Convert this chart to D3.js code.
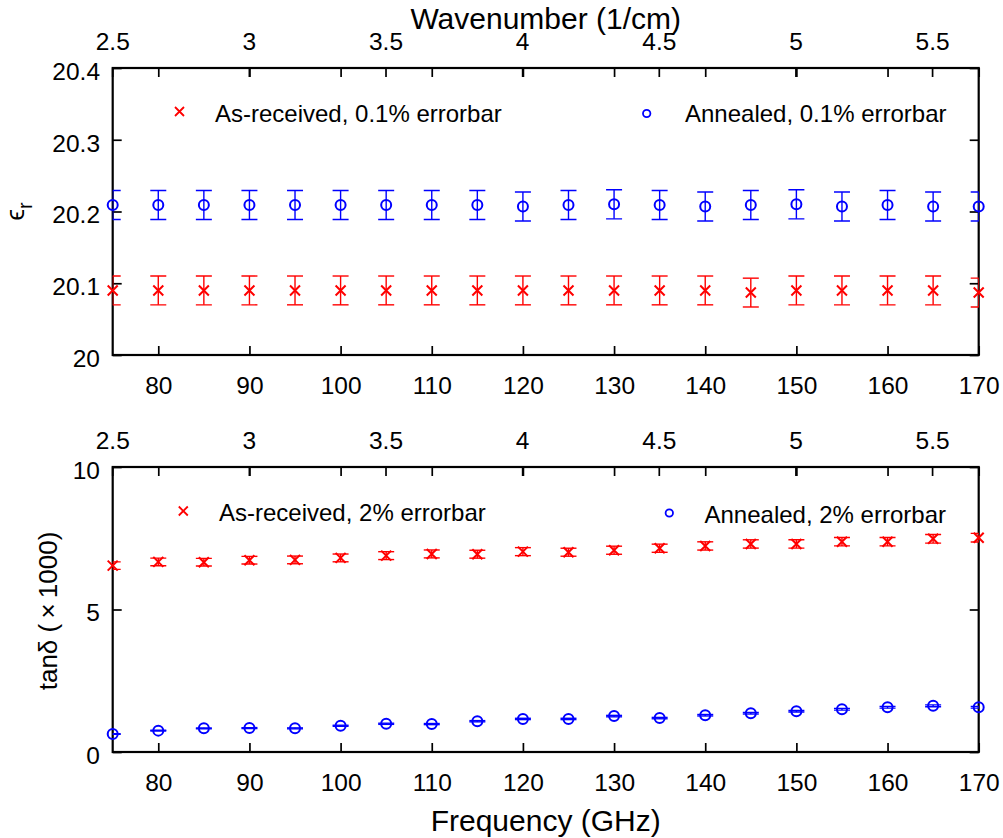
<!DOCTYPE html>
<html>
<head>
<meta charset="utf-8">
<script src="https://cdn.jsdelivr.net/npm/d3@7"></script>
<style>
  html, body { margin: 0; padding: 0; background: #fff; }
  svg { display: block; font-family: "Liberation Sans", Arial, Helvetica, sans-serif; }
</style>
</head>
<body>
<svg id="chart" width="1003" height="838"></svg>
<script>
// ---------------- data ----------------
const freqGHz = [75, 80, 85, 90, 95, 100, 105, 110, 115, 120, 125, 130, 135, 140, 145, 150, 155, 160, 165, 170];

const erAsReceived = [20.090, 20.090, 20.090, 20.090, 20.090, 20.090, 20.090, 20.090, 20.090, 20.090,
                      20.090, 20.090, 20.090, 20.090, 20.087, 20.090, 20.090, 20.090, 20.090, 20.087];
const erAnnealed   = [20.209, 20.209, 20.209, 20.209, 20.209, 20.209, 20.209, 20.209, 20.209, 20.207,
                      20.209, 20.210, 20.209, 20.207, 20.209, 20.210, 20.207, 20.209, 20.207, 20.207];

const tanAsReceived = [6.54, 6.67, 6.66, 6.73, 6.74, 6.81, 6.89, 6.95, 6.94, 7.03,
                       7.01, 7.08, 7.15, 7.23, 7.30, 7.30, 7.38, 7.38, 7.48, 7.52];
const tanAnnealed   = [0.63, 0.75, 0.83, 0.84, 0.83, 0.92, 0.99, 0.98, 1.08, 1.16,
                       1.16, 1.26, 1.19, 1.29, 1.36, 1.43, 1.50, 1.57, 1.62, 1.57];

const erErrorFraction = 0.001;   // 0.1 %
const tanErrorFraction = 0.02;   // 2 %

const freqTicks = [80, 90, 100, 110, 120, 130, 140, 150, 160, 170];
const wavenumberTicks = [2.5, 3, 3.5, 4, 4.5, 5, 5.5];
const erTicks = [20, 20.1, 20.2, 20.3, 20.4];
const tanTicks = [0, 5, 10];
const freqDomain = [75, 170];
const erDomain = [20, 20.4];
const tanDomain = [0, 10];
const cLight = 29.9792458; // GHz per 1/cm

const legendTop = ["As-received, 0.1% errorbar", "Annealed, 0.1% errorbar"];
const legendBottom = ["As-received, 2% errorbar", "Annealed, 2% errorbar"];

// ---------------- layout ----------------
const RED = "#ff0000", BLUE = "#0000ff";
const left = 112.7, right = 978.7;
const TICK = 9;
const FS = 24.5;

const svg = d3.select("#chart");

const x = d3.scaleLinear().domain(freqDomain).range([left, right]);
const xWn = d3.scaleLinear().domain(freqDomain.map(f => f / cLight)).range([left, right]);

function panel(cfg) {
  const { top, bottom, y, yTicks, yFmt, series, legend, legendPos } = cfg;
  const g = svg.append("g");
  const clipId = "clip" + Math.round(top);
  svg.append("clipPath").attr("id", clipId)
    .append("rect").attr("x", left).attr("y", top).attr("width", right - left).attr("height", bottom - top);

  g.append("g").attr("transform", `translate(0,${bottom})`)
    .call(d3.axisBottom(x).tickValues(freqTicks).tickSizeInner(-TICK).tickSizeOuter(0).tickPadding(21.5).tickFormat(d3.format("d")));
  g.append("g").attr("transform", `translate(0,${top})`)
    .call(d3.axisTop(x).tickValues(freqTicks).tickSizeInner(-TICK).tickSizeOuter(0).tickFormat(""));
  g.append("g").attr("transform", `translate(0,${top})`)
    .call(d3.axisTop(xWn).tickValues(wavenumberTicks).tickSizeInner(-TICK).tickSizeOuter(0).tickPadding(18).tickFormat(d3.format("")));
  g.append("g").attr("transform", `translate(${left},0)`)
    .call(d3.axisLeft(y).tickValues(yTicks).tickSizeInner(-TICK).tickSizeOuter(0).tickPadding(12.7).tickFormat(yFmt));
  g.append("g").attr("transform", `translate(${right},0)`)
    .call(d3.axisRight(y).tickValues(yTicks).tickSizeInner(-TICK).tickSizeOuter(0).tickFormat(""));

  g.selectAll(".domain").remove();
  g.selectAll(".tick line").attr("stroke", "#000").attr("stroke-width", 1.7);
  g.selectAll(".tick text").attr("font-size", FS).attr("fill", "#000")
    .attr("font-family", '"Liberation Sans", Arial, sans-serif');
  g.selectAll("g.tick text").filter(function () { return this.getAttribute("dy") === "0.32em"; })
    .attr("dy", "0.46em");

  g.append("rect").attr("x", left).attr("y", top).attr("width", right - left).attr("height", bottom - top)
    .attr("fill", "none").attr("stroke", "#000").attr("stroke-width", 2.2);

  series.forEach(s => {
    const pts = freqGHz.map((f, i) => ({ f, v: s.values[i] }));
    const eb = g.append("g").attr("clip-path", `url(#${clipId})`)
      .attr("stroke", s.color).attr("stroke-width", 1.4).attr("fill", "none");
    const cap = 8;
    pts.forEach(p => {
      const lo = y(p.v * (1 - s.err)), hi = y(p.v * (1 + s.err)), cx = x(p.f);
      eb.append("line").attr("x1", cx).attr("x2", cx).attr("y1", lo).attr("y2", hi);
      eb.append("line").attr("x1", cx - cap).attr("x2", cx + cap).attr("y1", lo).attr("y2", lo);
      eb.append("line").attr("x1", cx - cap).attr("x2", cx + cap).attr("y1", hi).attr("y2", hi);
    });
    const mk = g.append("g").attr("stroke", s.color).attr("stroke-width", 2).attr("fill", "none");
    if (s.marker === "x") {
      mk.selectAll("path").data(pts).join("path")
        .attr("d", d => { const cx = x(d.f), cy = y(d.v), r = 5; return `M${cx - r},${cy - r}L${cx + r},${cy + r}M${cx - r},${cy + r}L${cx + r},${cy - r}`; });
    } else {
      mk.selectAll("circle").data(pts).join("circle")
        .attr("cx", d => x(d.f)).attr("cy", d => y(d.v)).attr("r", 5);
    }
  });

  const lg = g.append("g").attr("font-size", 24).attr("fill", "#000");
  legendPos.forEach((lp, i) => {
    const s = series[i];
    if (s.marker === "x") {
      const r = 4.5;
      lg.append("path").attr("d", `M${lp.mx - r},${lp.my - r}L${lp.mx + r},${lp.my + r}M${lp.mx - r},${lp.my + r}L${lp.mx + r},${lp.my - r}`)
        .attr("stroke", s.color).attr("stroke-width", 1.8).attr("fill", "none");
    } else {
      lg.append("circle").attr("cx", lp.mx).attr("cy", lp.my).attr("r", 3.7)
        .attr("stroke", s.color).attr("stroke-width", 1.8).attr("fill", "none");
    }
    lg.append("text").attr("x", lp.tx).attr("y", lp.ty).text(legend[i]);
  });
}

panel({
  top: 68, bottom: 355,
  y: d3.scaleLinear().domain(erDomain).range([355, 68]),
  yTicks: erTicks, yFmt: d => d3.format("")(+d.toFixed(1)),
  series: [
    { values: erAsReceived, err: erErrorFraction, color: RED, marker: "x" },
    { values: erAnnealed, err: erErrorFraction, color: BLUE, marker: "o" }
  ],
  legend: legendTop,
  legendPos: [{ mx: 179.5, my: 111.5, tx: 215, ty: 121.7 }, { mx: 646.7, my: 113.5, tx: 685, ty: 121.7 }]
});

panel({
  top: 467, bottom: 752,
  y: d3.scaleLinear().domain(tanDomain).range([752, 467]),
  yTicks: tanTicks, yFmt: d3.format("d"),
  series: [
    { values: tanAsReceived, err: tanErrorFraction, color: RED, marker: "x" },
    { values: tanAnnealed, err: tanErrorFraction, color: BLUE, marker: "o" }
  ],
  legend: legendBottom,
  legendPos: [{ mx: 183.3, my: 511, tx: 219, ty: 521 }, { mx: 669.3, my: 513, tx: 704.5, ty: 522.5 }]
});

const mid = (left + right) / 2;
svg.append("text").attr("x", mid).attr("y", 28.5).attr("text-anchor", "middle")
  .attr("font-size", 30).text("Wavenumber (1/cm)");
svg.append("text").attr("x", mid).attr("y", 831).attr("text-anchor", "middle")
  .attr("font-size", 30).text("Frequency (GHz)");

const erLab = svg.append("text").attr("transform", "translate(24,211.5) rotate(-90)")
  .attr("text-anchor", "middle").attr("font-size", 26);
erLab.append("tspan").text("ϵ");
erLab.append("tspan").attr("font-size", 20).attr("dy", 8).text("r");

svg.append("text").attr("transform", "translate(57,611) rotate(-90)")
  .attr("text-anchor", "middle").attr("font-size", 26)
  .text("tanδ (\u2009×\u20091000)");
</script>
</body>
</html>
